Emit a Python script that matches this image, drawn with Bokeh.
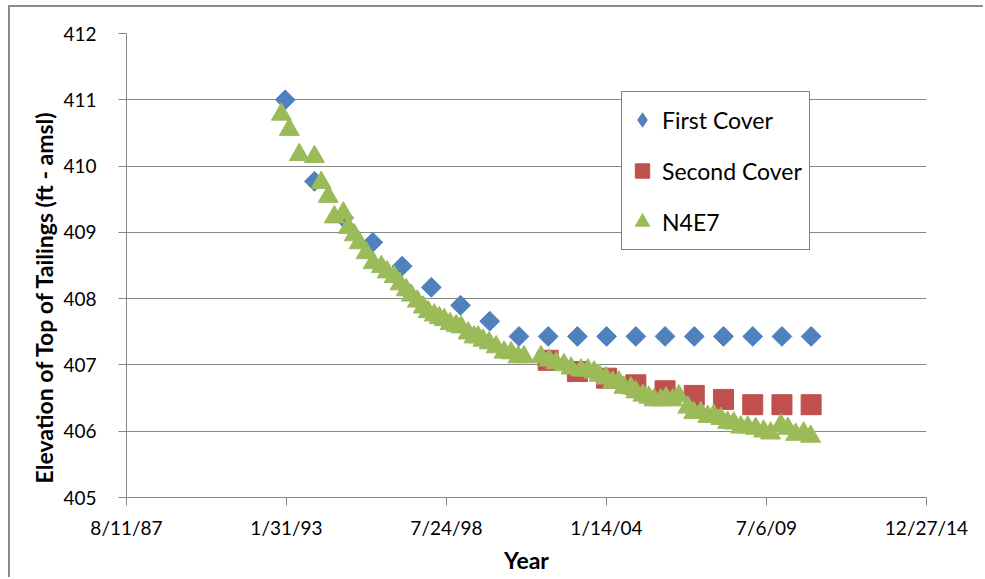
import pandas as pd
from math import pi
from bokeh.plotting import figure
from bokeh.models import Range1d, FixedTicker, Legend, LegendItem, Title
from bokeh.embed import file_html
from bokeh.resources import INLINE

# ---------------- data ----------------
cover_years = list(range(1993, 2012))
first_cover = [411.00, 409.77, 409.22, 408.85, 408.49, 408.17, 407.90, 407.66, 407.43,
               407.43, 407.43, 407.43, 407.43, 407.43, 407.43, 407.43, 407.43, 407.43, 407.43]

second_years = list(range(2002, 2012))
second_cover = [407.07, 406.90, 406.80, 406.70, 406.61, 406.54, 406.48, 406.40, 406.40, 406.40]

n4e7_years = [1992.91, 1993.18, 1993.52, 1994.04, 1994.27, 1994.51, 1994.72, 1995.03, 1995.20,
              1995.40, 1995.57, 1995.81, 1996.05, 1996.33, 1996.53, 1996.77, 1996.97, 1997.18,
              1997.35, 1997.56, 1997.76, 1997.93, 1998.14, 1998.31, 1998.48, 1998.68, 1998.89,
              1999.06, 1999.30, 1999.50, 1999.64, 1999.81, 2000.02, 2000.26, 2000.53, 2000.77,
              2001.01, 2001.21, 2001.79, 2002.07, 2002.31, 2002.58, 2002.82, 2003.16, 2003.40,
              2003.61, 2003.78, 2004.02, 2004.25, 2004.46, 2004.63, 2004.87, 2005.04, 2005.28,
              2005.48, 2005.66, 2005.89, 2006.07, 2006.30, 2006.51, 2006.82, 2007.02, 2007.26,
              2007.50, 2007.71, 2007.95, 2008.18, 2008.39, 2008.63, 2008.87, 2009.14, 2009.41,
              2009.65, 2010.00, 2010.24, 2010.51, 2010.78, 2011.02]
n4e7 = [410.78, 410.55, 410.17, 410.14, 409.75, 409.54, 409.23, 409.29, 409.07,
        408.96, 408.84, 408.69, 408.54, 408.48, 408.40, 408.33, 408.22, 408.13,
        408.05, 407.96, 407.87, 407.80, 407.75, 407.71, 407.68, 407.62, 407.59,
        407.57, 407.48, 407.42, 407.42, 407.37, 407.33, 407.27, 407.19, 407.18,
        407.12, 407.12, 407.12, 407.07, 407.03, 407.00, 406.95, 406.92, 406.92,
        406.89, 406.84, 406.80, 406.74, 406.74, 406.66, 406.65, 406.59, 406.54,
        406.51, 406.47, 406.47, 406.50, 406.47, 406.53, 406.36, 406.28, 406.28,
        406.22, 406.24, 406.19, 406.13, 406.12, 406.06, 406.06, 406.04, 406.00,
        405.97, 406.09, 406.04, 405.95, 405.97, 405.92]

x_tick_dates = ["1987-08-11", "1993-01-31", "1998-07-24", "2004-01-14", "2009-07-06", "2014-12-27"]
x_tick_labels = ["8/11/87", "1/31/93", "7/24/98", "1/14/04", "7/6/09", "12/27/14"]
y_ticks = [405, 406, 407, 408, 409, 410, 411, 412]

# ---------------- helpers ----------------
def jan15(y):
    return pd.Timestamp(int(y), 1, 15)

def dec_year(y):
    yr = int(y)
    return pd.Timestamp(yr, 1, 1) + pd.Timedelta(days=(y - yr) * 365.25)

first_x = [jan15(y) for y in cover_years]
second_x = [jan15(y) for y in second_years]
n4e7_x = [dec_year(y) for y in n4e7_years]
tick_ms = [float(pd.Timestamp(d).value // 10**6) for d in x_tick_dates]

FONT = "Lato"
BLUE, RED, GREEN = "#4F81BD", "#C0504D", "#9BBB59"
GRAY = "#868686"

p = figure(width=975, height=572, x_axis_type="datetime",
           output_backend="svg", toolbar_location=None,
           x_range=Range1d(tick_ms[0], tick_ms[-1]), y_range=Range1d(405, 412),
           min_border_left=116, min_border_right=59, min_border_top=26, min_border_bottom=82)
p.styles = {"margin-left": "8px", "margin-top": "5px",
            "border-left": "2px solid #8a8a8a", "border-top": "2px solid #8a8a8a"}
p.outline_line_color = None
p.background_fill_color = "white"
p.border_fill_color = "white"

p.xgrid.visible = False
p.ygrid.grid_line_color = GRAY
p.ygrid.grid_line_width = 1

# axes
p.yaxis.ticker = FixedTicker(ticks=y_ticks)
p.xaxis.ticker = FixedTicker(ticks=tick_ms)
p.xaxis.major_label_overrides = {t: l for t, l in zip(tick_ms, x_tick_labels)}
for ax in (p.xaxis[0], p.yaxis[0]):
    ax.axis_line_color = GRAY
    ax.major_tick_line_color = GRAY
    ax.minor_tick_line_color = None
    ax.major_tick_in = 0
    ax.major_tick_out = 8
    ax.major_label_text_font = FONT
    ax.major_label_text_font_size = "19px"
    ax.major_label_text_color = "black"
    ax.axis_label_text_font = FONT
    ax.axis_label_text_font_size = "23px"
    ax.axis_label_text_font_style = "bold"
    ax.axis_label_text_color = "black"
p.yaxis.major_label_standoff = 22
p.xaxis.major_label_standoff = 10
p.xaxis.axis_label = "Year"
p.xaxis.axis_label_standoff = 4

# y-axis title (sits slightly below the plot-area centre, as in the original)
ytitle = Title(text="Elevation of Top of Tailings (ft - amsl)", align="left", offset=14,
               standoff=6, text_font=FONT, text_font_size="23px",
               text_font_style="bold", text_color="black")
p.add_layout(ytitle, "left")

# series
r_first = p.scatter(first_x, first_cover, marker="square", angle=pi / 4, size=14,
                    fill_color=BLUE, line_color=BLUE)
r_second = p.scatter(second_x, second_cover, marker="square", size=20,
                     fill_color=RED, line_color=RED)
r_n4e7 = p.scatter(n4e7_x, n4e7, marker="triangle", size=20,
                   fill_color=GREEN, line_color=GREEN)
# legend proxy for the diamond symbol
r_first_key = p.scatter([float("nan")], [float("nan")], marker="diamond", size=14,
                        fill_color=BLUE, line_color=BLUE)

legend = Legend(items=[LegendItem(label="First Cover", renderers=[r_first_key]),
                       LegendItem(label="Second Cover", renderers=[r_second]),
                       LegendItem(label="N4E7", renderers=[r_n4e7])],
                location=(495, 247))
legend.padding = 2
legend.margin = 0
legend.glyph_width = 36
legend.glyph_height = 51
legend.label_height = 51
legend.spacing = 0
legend.label_standoff = 2
legend.label_width = 145
legend.label_text_font = FONT
legend.label_text_font_size = "23px"
legend.label_text_color = "black"
legend.label_text_baseline = "middle"
legend.border_line_color = "black"
legend.border_line_width = 1
legend.background_fill_color = "white"
legend.background_fill_alpha = 1.0
p.add_layout(legend)

open("out.html", "w").write(file_html(p, INLINE))
